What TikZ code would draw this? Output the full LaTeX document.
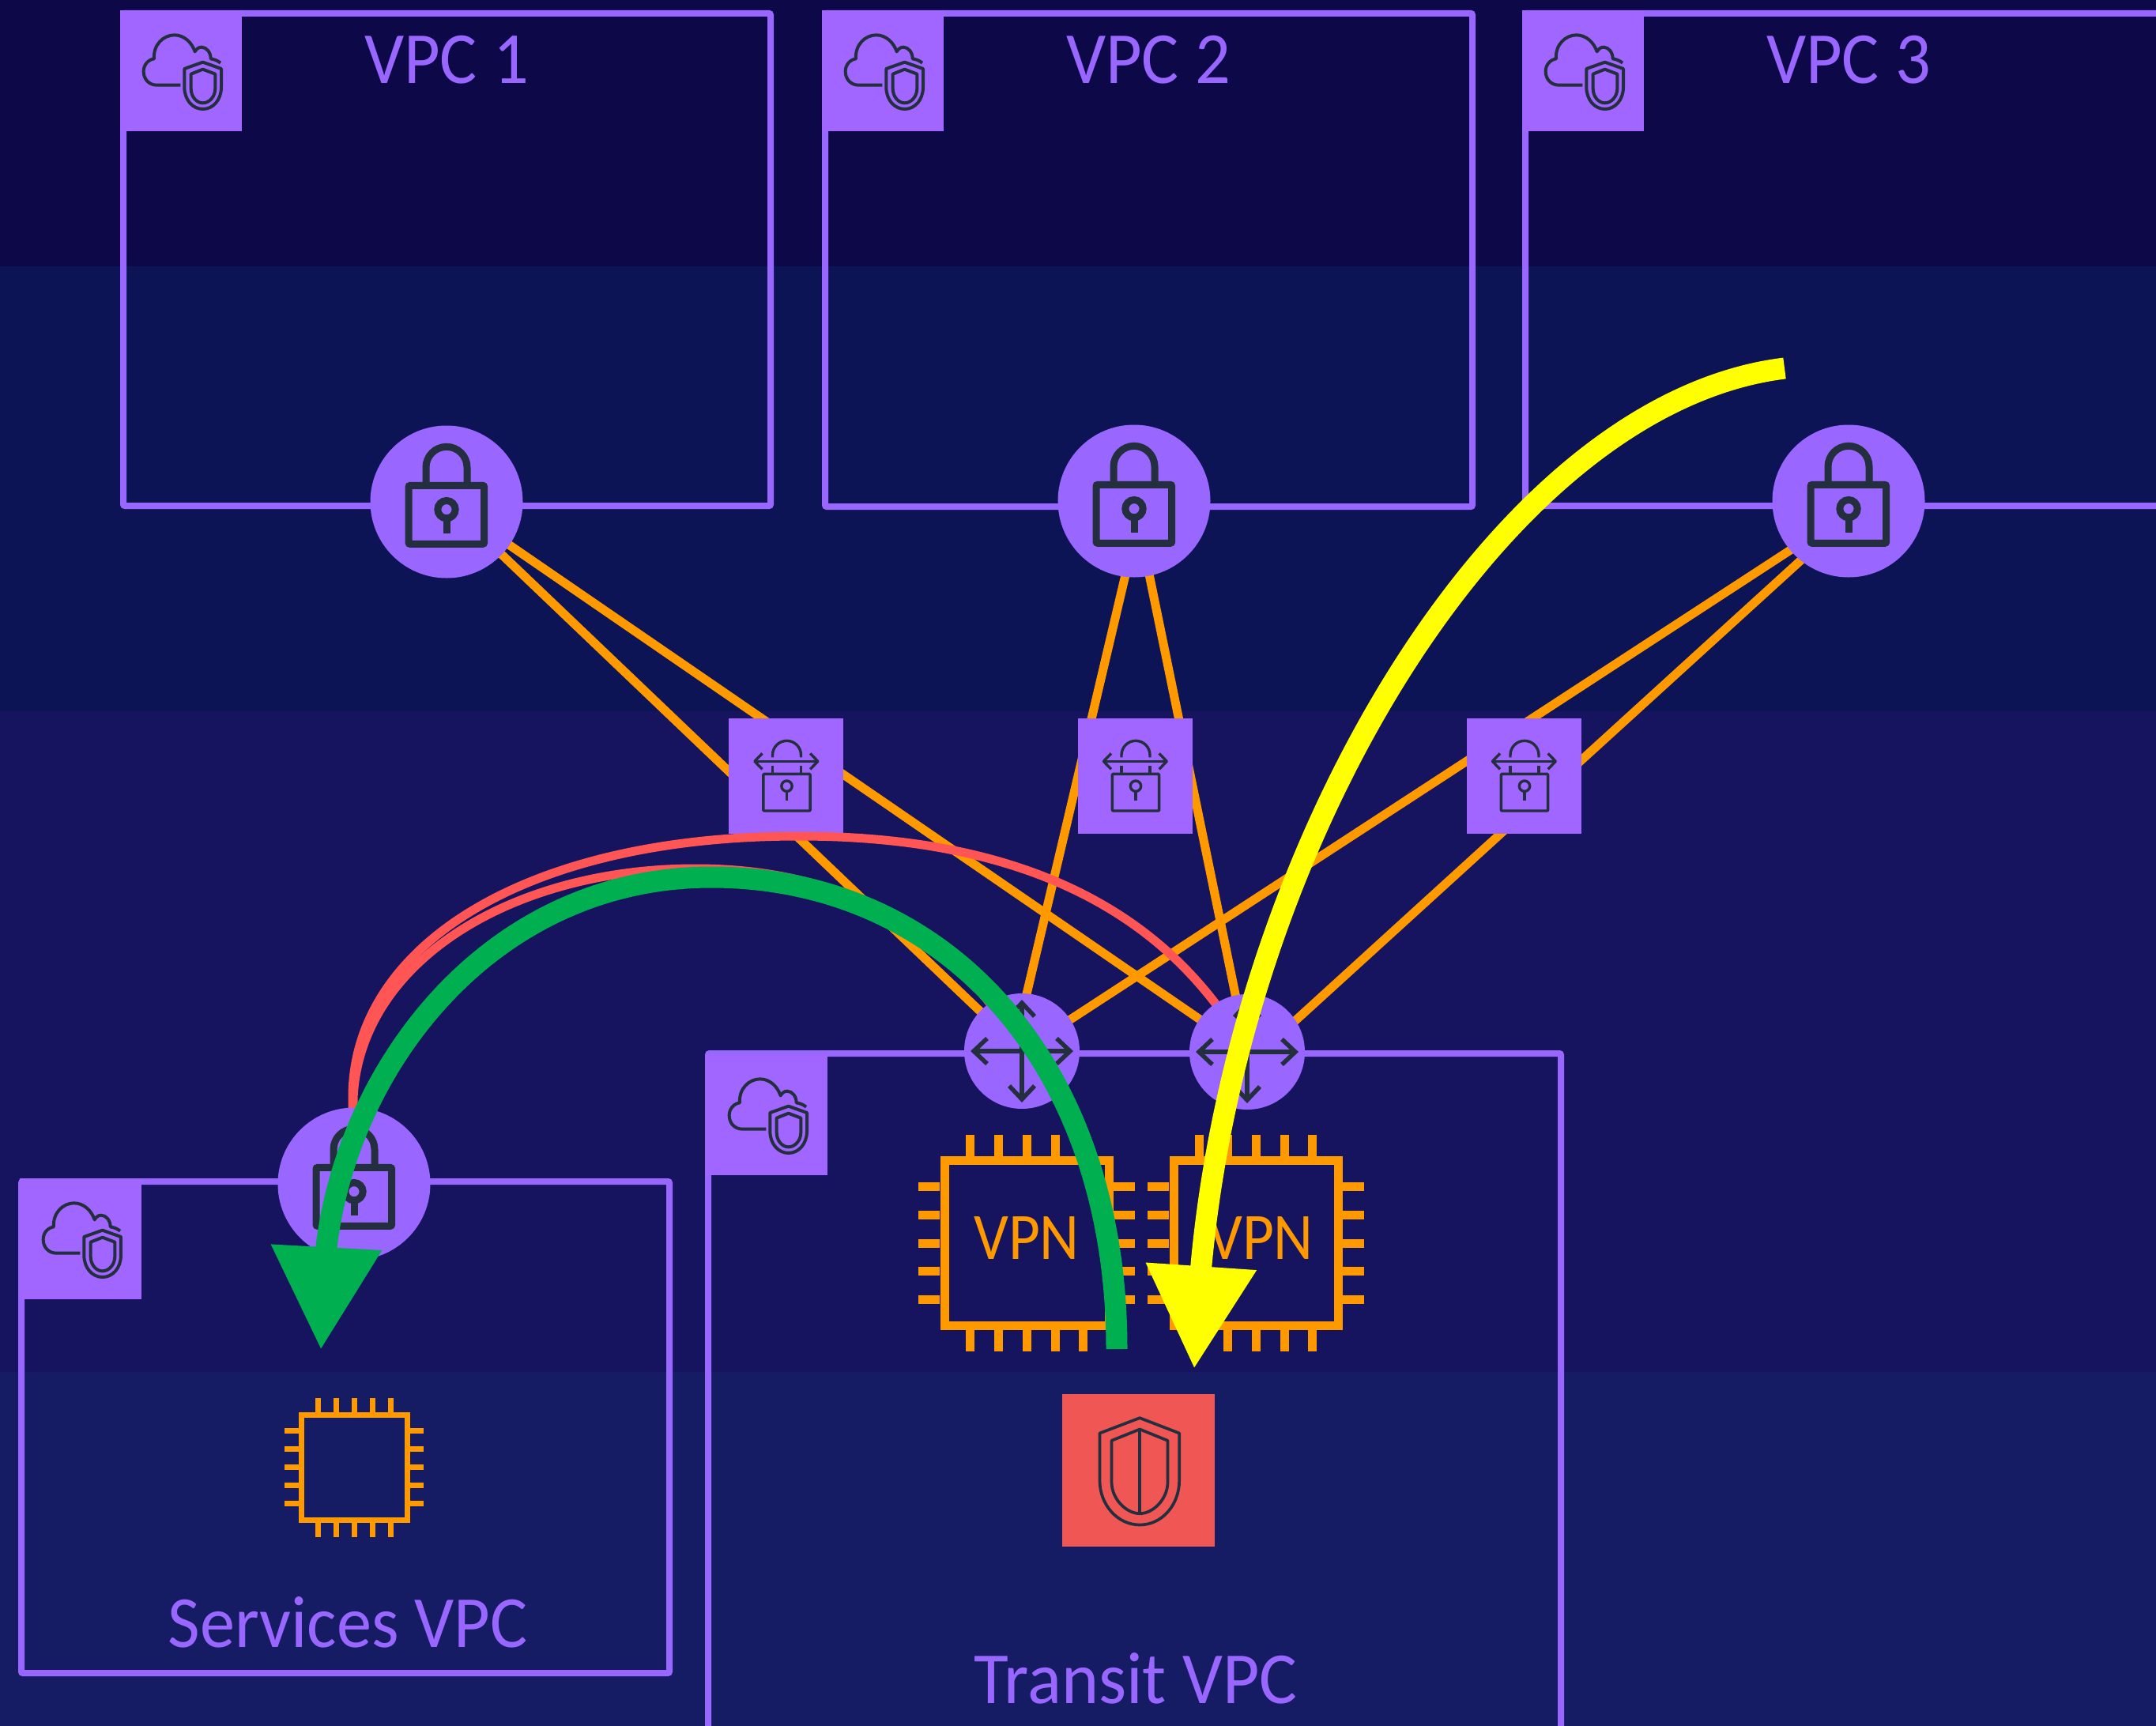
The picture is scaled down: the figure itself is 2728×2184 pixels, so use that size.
\documentclass[tikz,border=0pt]{standalone}
\usepackage{fontspec}
\usepackage{graphicx}
\setmainfont{Carlito}
\usetikzlibrary{arrows.meta}
\pgfdeclarelayer{back}\pgfdeclarelayer{orangelayer}\pgfdeclarelayer{squarelayer}\pgfdeclarelayer{redlayer}\pgfdeclarelayer{toplayer}
\pgfsetlayers{back,orangelayer,squarelayer,redlayer,main,toplayer}
\definecolor{purp}{HTML}{A166FF}
\definecolor{purpc}{HTML}{9966FF}
\definecolor{orng}{HTML}{FF9900}
\definecolor{ink}{HTML}{232F3E}
\definecolor{redl}{HTML}{FF5555}
\definecolor{shieldred}{HTML}{F05654}
\definecolor{grn}{HTML}{00AF50}
\definecolor{yel}{HTML}{FFFF00}
\definecolor{bandA}{HTML}{0D0848}
\definecolor{bandB}{HTML}{0D1456}
\definecolor{bandC}{HTML}{17145F}
\definecolor{bandD}{HTML}{151C64}
\tikzset{
  vpcbox/.style={draw=purpc,line width=8pt,rounded corners=2pt},
  tagbox/.style={rectangle,fill=purp,anchor=north west,inner sep=0pt,minimum width=154pt,minimum height=153pt},
  lockdisc/.style={circle,fill=purpc,inner sep=0pt,minimum size=193pt},
  routerdisc/.style={circle,fill=purpc,inner sep=0pt,minimum size=146pt},
  gatebox/.style={rectangle,fill=purp,inner sep=0pt,minimum width=145pt,minimum height=146pt},
  shieldbox/.style={rectangle,fill=shieldred,inner sep=0pt,minimum size=193pt},
  orangeline/.style={draw=orng,line width=11pt},
  redline/.style={draw=redl,line width=11pt},
  greenarrow/.style={draw=grn,line width=27pt,-{Triangle[length=130pt,width=133pt,fill=grn]}},
  yellowarrow/.style={draw=yel,line width=27pt,-{Triangle[length=130pt,width=133pt,fill=yel]}},
  lbl/.style={text=purpc,inner sep=0pt,anchor=base,font=\fontsize{93}{93}\selectfont},
  vpnlbl/.style={text=orng,inner sep=0pt,anchor=base,font=\fontsize{84}{84}\selectfont},
  pics/cloudshield/.style={code={
    \begin{scope}[scale=0.33333,draw=ink,line width=4pt,line join=round]
      \draw (229,284) -- (139,284) .. controls (110,284) and (89,262) .. (89,232)
        .. controls (89,208) and (105,188) .. (129,184)
        .. controls (125,130) and (165,94) .. (206,94)
        .. controls (243,94) and (272,122) .. (284,157)
        .. controls (290,147) and (298,140) .. (309,140)
        .. controls (328,140) and (344,160) .. (344,184)
        .. controls (358,186) and (372,192) .. (381,200);
      \draw (314,197) -- (244,222) -- (244,292) .. controls (244,340) and (275,375) .. (314,375)
        .. controls (353,375) and (384,340) .. (384,292) -- (384,222) -- cycle;
      \draw (314,224) -- (269,242) -- (269,297) .. controls (269,328) and (290,352) .. (314,352)
        .. controls (338,352) and (361,328) .. (361,297) -- (361,242) -- cycle;
    \end{scope}}},
  pics/lockicon/.style={code={
    \begin{scope}[scale=0.33333,draw=ink,line width=9pt]
      \draw[rounded corners=2pt] (-144,-62) rectangle (143,160);
      \draw (-78,-62) -- (-78,-131) arc[start angle=180,end angle=360,radius=78] -- (78,-62);
      \draw (0,29) circle[radius=33.5];
      \draw (0,62) -- (0,121);
    \end{scope}}},
  pics/gateicon/.style={code={
    \begin{scope}[scale=0.33333,draw=ink,line width=3.4pt,line join=round]
      \draw (-51,-71) -- (-51,-80) arc[start angle=180,end angle=360,radius=54] -- (57,-71);
      \draw (-119,-56) -- (121,-56);
      \draw (-90,-86) -- (-119,-56) -- (-90,-26);
      \draw (92,-86) -- (121,-56) -- (92,-26);
      \draw (-51,-38) -- (-51,-8);
      \draw (57,-38) -- (57,-8);
      \draw[rounded corners=1pt] (-86,-8) rectangle (92,132);
      \draw (3,38) circle[radius=20];
      \draw (3,58) -- (3,94);
    \end{scope}}},
  pics/routericon/.style={code={
    \begin{scope}[draw=ink,line width=5.5pt,line join=miter]
      \draw (-61,0) -- (61,0);
      \draw (0,-61) -- (0,61);
      \draw (-44,-16) -- (-61,0) -- (-44,16);
      \draw (44,-16) -- (61,0) -- (44,16);
      \draw (-16,-44) -- (0,-61) -- (16,-44);
      \draw (-16,44) -- (0,61) -- (16,44);
    \end{scope}}},
  pics/shieldicon/.style={code={
    \begin{scope}[scale=0.33333,draw=ink,line width=3.7pt,line join=round]
      \draw (5,-199) -- (-147,-141) -- (-147,39) .. controls (-147,130) and (-80,207) .. (5,207)
        .. controls (90,207) and (155,130) .. (155,39) -- (155,-141) -- cycle;
      \draw (5,-156) -- (-102,-113) -- (-102,44) .. controls (-102,110) and (-45,164) .. (5,164)
        .. controls (55,164) and (111,110) .. (111,44) -- (111,-113) -- cycle;
      \draw (5,-156) -- (5,164);
    \end{scope}}},
  pics/bigchip/.style={code={
    \draw[orng,line width=11pt] (-104,-104.5) rectangle (104,104.5);
    \foreach \p in {-72,-36,0,36,71}{
      \draw[orng,line width=11pt] (\p,-110) -- (\p,-137);
      \draw[orng,line width=11pt] (\p,110) -- (\p,137);
    }
    \foreach \p in {-72,-36,0,35,71}{
      \draw[orng,line width=11pt] (-110,\p) -- (-137,\p);
      \draw[orng,line width=11pt] (110,\p) -- (137,\p);
    }}},
  pics/smallchip/.style={code={
    \draw[orng,line width=7pt] (-67,-66.5) rectangle (67,66.5);
    \foreach \p in {-46,-23,0,23,46}{
      \draw[orng,line width=7pt] (\p,-66) -- (\p,-87.5);
      \draw[orng,line width=7pt] (\p,66) -- (\p,88.5);
      \draw[orng,line width=7pt] (-67,\p) -- (-88,\p);
      \draw[orng,line width=7pt] (67,\p) -- (88,\p);
    }}},
}
\begin{document}
\begin{tikzpicture}[x=1pt,y=-1pt]
\useasboundingbox (0,0) rectangle (2728,2184);

% nodes on the main layer
\node[lockdisc] (lock1) at (565,635) {};
\node[lockdisc] (lock2) at (1435,634) {};
\node[lockdisc] (lock3) at (2339,634) {};
\node[lockdisc] (lockS) at (448,1498) {};
\node[routerdisc] (router1) at (1293,1330) {};
\node[routerdisc] (router2) at (1578,1331) {};
\pic at (lock1.center) {lockicon};
\pic at (lock2.center) {lockicon};
\pic at (lock3.center) {lockicon};
\pic at (lockS.center) {lockicon};
\pic at (router1.center) {routericon};
\pic at (router2.center) {routericon};
\coordinate (chip1) at (1299,1573);
\coordinate (chip2) at (1589,1573);
\pic at (chip1) {bigchip};
\pic at (chip2) {bigchip};
\node[vpnlbl] (vpn1) at (1299,1593) {\scalebox{.92}[1]{VPN}};
\node[vpnlbl] (vpn2) at (1595,1593) {\scalebox{.92}[1]{VPN}};
\coordinate (chipS) at (448,1856.5);
\pic at (chipS) {smallchip};
\node[shieldbox] (shield) at (1440.5,1860.5) {};
\pic at (shield.center) {shieldicon};
\node[lbl] (t1) at (565,105) {\scalebox{.95}[1]{VPC 1}};
\node[lbl] (t2) at (1453,105) {\scalebox{.95}[1]{VPC 2}};
\node[lbl] (t3) at (2339,105) {\scalebox{.95}[1]{VPC 3}};
\node[lbl] (t4) at (440,2084) {\scalebox{.95}[1]{Services VPC}};
\node[lbl] (t5) at (1437,2155) {\scalebox{.965}[1]{Transit VPC}};

\begin{pgfonlayer}{back}
  \fill[bandA] (0,0) rectangle (2728,337);
  \fill[bandB] (0,337) rectangle (2728,900);
  \fill[bandC] (0,900) rectangle (2728,1736);
  \fill[bandD] (0,1736) rectangle (2728,2184);
  \draw[vpcbox] (156,17) rectangle (975,640);
  \draw[vpcbox] (1044,17) rectangle (1863,641);
  \draw[vpcbox] (2745,17) -- (1930,17) -- (1930,640) -- (2745,640);
  \draw[vpcbox] (27,1495) rectangle (847,2117);
  \draw[vpcbox] (896,2200) -- (896,1333) -- (1975,1333) -- (1975,2200);
  \node[tagbox] (tag1) at (152,13) {};
  \node[tagbox] (tag2) at (1040,13) {};
  \node[tagbox] (tag3) at (1926,13) {};
  \node[tagbox] (tagS) at (25,1491) {};
  \node[tagbox] (tagT) at (893,1334) {};
  \pic at (tag1.north west) {cloudshield};
  \pic at (tag2.north west) {cloudshield};
  \pic at (tag3.north west) {cloudshield};
  \pic at (tagS.north west) {cloudshield};
  \pic at (tagT.north west) {cloudshield};
\end{pgfonlayer}

\begin{pgfonlayer}{orangelayer}
  \coordinate (lock2port) at (1446,634);
  \coordinate (lock3portA) at (2339,648);
  \coordinate (lock3portB) at (2339,654);
  \coordinate (router1port) at (1282,1330);
  \coordinate (router2port) at (1578,1347);
  \draw[orangeline] (lock1.center) -- (router1.center);
  \draw[orangeline] (lock1.center) -- (router2.center);
  \draw[orangeline] (lock2port) -- (router1port);
  \draw[orangeline] (lock2.center) -- (router2.center);
  \draw[orangeline] (lock3portA) -- (router1.center);
  \draw[orangeline] (lock3portB) -- (router2port);
\end{pgfonlayer}

\begin{pgfonlayer}{squarelayer}
  \node[gatebox] (gate1) at (994.5,982) {};
  \node[gatebox] (gate2) at (1436,982) {};
  \node[gatebox] (gate3) at (1928,982) {};
  \pic at (gate1.center) {gateicon};
  \pic at (gate2.center) {gateicon};
  \pic at (gate3.center) {gateicon};
\end{pgfonlayer}

\begin{pgfonlayer}{redlayer}
  \draw[redline] (lockS.center) -- (446,1390) .. controls (445,1200) and (660,1058) .. (1011,1058)
    .. controls (1240,1058) and (1460,1120) .. (router2.center);
  \draw[redline] (lockS.center) -- (447,1390) .. controls (455,1215) and (650,1099) .. (880,1099)
    .. controls (1060,1099) and (1200,1170) .. (router1.center);
\end{pgfonlayer}

\begin{pgfonlayer}{toplayer}
  \coordinate (greenstart) at (1413,1707);
  \coordinate (greenend) at (406,1708);
  \coordinate (yellowstart) at (2258,466);
  \coordinate (yellowend) at (1511,1732);
  \draw[greenarrow] (greenstart) .. controls (1413,1350) and (1200,1110) .. (900,1110)
    .. controls (620,1110) and (440,1350) .. (413,1578) -- (greenend);
  \draw[yellowarrow] (yellowstart) .. controls (1900,510) and (1570,1060) .. (1520,1600) -- (yellowend);
\end{pgfonlayer}
\end{tikzpicture}
\end{document}
